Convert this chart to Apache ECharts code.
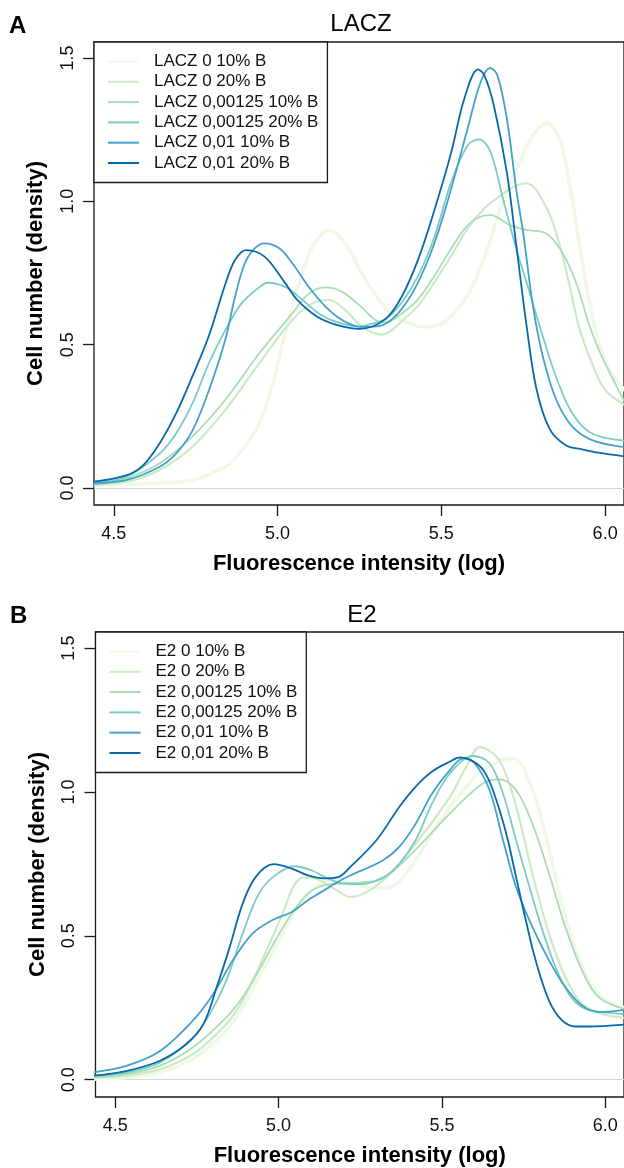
<!DOCTYPE html>
<html>
<head>
<meta charset="utf-8">
<script src="https://cdn.jsdelivr.net/npm/echarts@6/dist/echarts.min.js"></script>
<style>
  html, body { margin: 0; padding: 0; background: #fff; }
  #main { width: 624px; height: 1168px; }
</style>
</head>
<body>
<div id="main"></div>
<script>
// legend names
var laczNames = ['LACZ 0 10% B', 'LACZ 0 20% B', 'LACZ 0,00125 10% B', 'LACZ 0,00125 20% B', 'LACZ 0,01 10% B', 'LACZ 0,01 20% B'];
var e2Names = ['E2 0 10% B', 'E2 0 20% B', 'E2 0,00125 10% B', 'E2 0,00125 20% B', 'E2 0,01 10% B', 'E2 0,01 20% B'];

// tick values
var xTicks = [4.5, 5.0, 5.5, 6.0];
var yTicks = [0, 0.5, 1.0, 1.5];

// panel A (LACZ) density curves, [log intensity, density]
var lacz0_10 = [[4.44,0.008],[4.54,0.012],[4.64,0.018],[4.74,0.028],[4.84,0.074],[4.89,0.13],[4.944,0.226],[4.985,0.365],[5.025,0.55],[5.066,0.714],[5.106,0.84],[5.157,0.9],[5.207,0.853],[5.257,0.749],[5.33,0.626],[5.39,0.58],[5.45,0.562],[5.51,0.58],[5.58,0.672],[5.63,0.8],[5.68,0.974],[5.73,1.114],[5.78,1.23],[5.823,1.271],[5.86,1.22],[5.89,1.07],[5.92,0.86],[5.95,0.66],[5.98,0.51],[6.01,0.42],[6.06,0.34]];
var lacz0_20 = [[4.44,0.013],[4.54,0.022],[4.64,0.063],[4.74,0.144],[4.84,0.272],[4.944,0.435],[5.045,0.586],[5.106,0.644],[5.157,0.656],[5.207,0.62],[5.257,0.563],[5.318,0.535],[5.378,0.58],[5.43,0.637],[5.48,0.72],[5.53,0.81],[5.58,0.905],[5.63,0.974],[5.68,1.02],[5.73,1.056],[5.76,1.063],[5.82,0.98],[5.86,0.853],[5.89,0.714],[5.92,0.563],[5.96,0.435],[6.0,0.342],[6.06,0.29]];
var lacz125_10 = [[4.44,0.01],[4.54,0.034],[4.64,0.086],[4.74,0.18],[4.84,0.307],[4.944,0.47],[5.045,0.609],[5.096,0.679],[5.146,0.7],[5.196,0.685],[5.257,0.63],[5.3,0.585],[5.33,0.578],[5.378,0.608],[5.43,0.66],[5.48,0.742],[5.53,0.835],[5.58,0.916],[5.63,0.95],[5.65,0.952],[5.71,0.917],[5.76,0.9],[5.82,0.888],[5.87,0.82],[5.912,0.714],[5.95,0.574],[5.99,0.458],[6.06,0.3]];
var lacz125_20 = [[4.44,0.016],[4.54,0.04],[4.64,0.12],[4.69,0.19],[4.74,0.295],[4.79,0.435],[4.84,0.55],[4.89,0.644],[4.944,0.7],[4.97,0.716],[5.025,0.7],[5.076,0.656],[5.126,0.609],[5.177,0.58],[5.247,0.563],[5.28,0.57],[5.33,0.59],[5.38,0.649],[5.43,0.742],[5.48,0.88],[5.53,1.067],[5.58,1.195],[5.615,1.216],[5.65,1.172],[5.69,1.0],[5.73,0.83],[5.77,0.68],[5.81,0.528],[5.85,0.388],[5.9,0.26],[5.96,0.19],[6.06,0.165]];
var lacz01_10 = [[4.44,0.016],[4.54,0.028],[4.64,0.074],[4.69,0.12],[4.74,0.2],[4.79,0.34],[4.84,0.516],[4.87,0.667],[4.9,0.784],[4.93,0.836],[4.96,0.853],[5.005,0.836],[5.045,0.784],[5.096,0.7],[5.146,0.633],[5.197,0.586],[5.247,0.563],[5.278,0.562],[5.33,0.573],[5.38,0.626],[5.43,0.72],[5.48,0.858],[5.53,1.044],[5.58,1.253],[5.62,1.416],[5.649,1.465],[5.671,1.44],[5.7,1.288],[5.73,1.03],[5.75,0.888],[5.78,0.633],[5.81,0.458],[5.851,0.307],[5.9,0.214],[5.96,0.167],[6.06,0.142]];
var lacz01_20 = [[4.44,0.022],[4.54,0.045],[4.59,0.08],[4.64,0.156],[4.69,0.26],[4.74,0.39],[4.79,0.53],[4.84,0.71],[4.87,0.795],[4.904,0.83],[4.96,0.807],[5.02,0.72],[5.06,0.656],[5.12,0.598],[5.18,0.569],[5.25,0.555],[5.33,0.59],[5.38,0.67],[5.43,0.8],[5.48,0.974],[5.53,1.17],[5.57,1.358],[5.612,1.46],[5.631,1.44],[5.66,1.335],[5.7,1.1],[5.73,0.835],[5.76,0.567],[5.79,0.347],[5.83,0.207],[5.88,0.149],[5.93,0.135],[5.98,0.123],[6.06,0.11]];

// panel B (E2) density curves
var e2_0_10 = [[4.435,0.002],[4.536,0.008],[4.637,0.026],[4.738,0.072],[4.84,0.171],[4.89,0.252],[4.94,0.357],[4.99,0.461],[5.04,0.566],[5.09,0.647],[5.14,0.688],[5.18,0.7],[5.22,0.68],[5.28,0.668],[5.33,0.666],[5.37,0.69],[5.42,0.763],[5.47,0.856],[5.525,0.949],[5.575,1.019],[5.626,1.077],[5.717,1.117],[5.777,1.007],[5.828,0.8],[5.878,0.566],[5.929,0.391],[5.99,0.287],[6.06,0.25]];
var e2_0_20 = [[4.435,0.008],[4.536,0.014],[4.637,0.037],[4.738,0.089],[4.84,0.194],[4.89,0.275],[4.94,0.391],[4.99,0.519],[5.02,0.6],[5.045,0.67],[5.075,0.703],[5.11,0.7],[5.17,0.664],[5.22,0.635],[5.32,0.693],[5.42,0.821],[5.525,0.984],[5.575,1.088],[5.616,1.156],[5.676,1.11],[5.727,0.95],[5.777,0.717],[5.828,0.508],[5.878,0.357],[5.929,0.264],[5.99,0.229],[6.06,0.215]];
var e2_125_10 = [[4.435,0.008],[4.536,0.02],[4.637,0.049],[4.738,0.113],[4.84,0.217],[4.89,0.287],[4.94,0.38],[4.99,0.484],[5.04,0.577],[5.09,0.647],[5.14,0.676],[5.2,0.682],[5.253,0.686],[5.32,0.7],[5.42,0.8],[5.525,0.926],[5.626,1.03],[5.676,1.044],[5.727,1.007],[5.777,0.89],[5.828,0.717],[5.878,0.531],[5.929,0.38],[5.98,0.287],[6.06,0.245]];
var e2_125_20 = [[4.435,0.014],[4.536,0.026],[4.637,0.06],[4.738,0.147],[4.79,0.229],[4.84,0.345],[4.89,0.508],[4.94,0.647],[4.99,0.711],[5.05,0.742],[5.1,0.728],[5.15,0.7],[5.2,0.682],[5.253,0.68],[5.324,0.705],[5.37,0.751],[5.42,0.833],[5.47,0.96],[5.525,1.065],[5.595,1.125],[5.646,1.1],[5.687,0.995],[5.727,0.833],[5.768,0.67],[5.808,0.519],[5.848,0.391],[5.889,0.298],[5.929,0.252],[5.99,0.235],[6.06,0.228]];
var e2_01_10 = [[4.435,0.026],[4.536,0.049],[4.637,0.1],[4.738,0.206],[4.8,0.298],[4.86,0.415],[4.92,0.508],[4.98,0.554],[5.04,0.583],[5.09,0.624],[5.14,0.659],[5.19,0.693],[5.22,0.71],[5.32,0.763],[5.37,0.81],[5.42,0.89],[5.47,0.995],[5.525,1.077],[5.565,1.117],[5.6,1.1],[5.646,1.007],[5.687,0.833],[5.727,0.67],[5.777,0.531],[5.828,0.415],[5.878,0.322],[5.929,0.258],[5.98,0.235],[6.06,0.243]];
var e2_01_20 = [[4.435,0.014],[4.536,0.031],[4.637,0.066],[4.718,0.124],[4.77,0.194],[4.81,0.32],[4.85,0.46],[4.89,0.612],[4.93,0.705],[4.985,0.749],[5.04,0.734],[5.09,0.71],[5.14,0.7],[5.18,0.703],[5.22,0.74],[5.3,0.833],[5.37,0.949],[5.42,1.019],[5.47,1.071],[5.525,1.106],[5.555,1.12],[5.59,1.11],[5.626,1.077],[5.656,1.007],[5.697,0.856],[5.727,0.705],[5.757,0.554],[5.787,0.415],[5.828,0.275],[5.868,0.206],[5.909,0.185],[5.95,0.185],[6.06,0.192]];

var laczData = [lacz0_10, lacz0_20, lacz125_10, lacz125_20, lacz01_10, lacz01_20];
var e2Data = [e2_0_10, e2_0_20, e2_125_10, e2_125_20, e2_01_10, e2_01_20];

// RColorBrewer GnBu, 6 classes
var colors = ['#f0f9e8', '#ccebc5', '#a8ddb5', '#7bccc4', '#43a2ca', '#0868ac'];
var widths = [3.5, 2.2, 1.8, 1.8, 1.8, 1.8];

var FONT = '"Liberation Sans", Arial, Helvetica, sans-serif';
var INK = '#1a1a1a';

var myChart = echarts.init(document.getElementById('main'), null, { renderer: 'canvas' });

function makeXAxis(idx) {
  return {
    type: 'value',
    gridIndex: idx,
    min: 4.4394,
    max: 6.0576,
    splitLine: { show: false },
    axisLine: { show: false, onZero: false },
    axisTick: { show: true, length: 11, customValues: xTicks, lineStyle: { color: INK, width: 1.3 } },
    axisLabel: {
      customValues: xTicks, margin: 20, fontSize: 18, color: '#111', fontFamily: FONT,
      formatter: function (v) { return v.toFixed(1); }
    },
    name: 'Fluorescence intensity (log)',
    nameLocation: 'middle',
    nameGap: 48,
    nameTextStyle: { fontSize: 22, fontWeight: 'bold', color: '#000', fontFamily: FONT }
  };
}

function makeYAxis(idx, min, max) {
  return {
    type: 'value',
    gridIndex: idx,
    min: min,
    max: max,
    splitLine: { show: false },
    axisLine: { show: false, onZero: false },
    axisTick: { show: true, length: 11, customValues: yTicks, lineStyle: { color: INK, width: 1.3 } },
    axisLabel: {
      customValues: yTicks, rotate: 90, margin: 17, fontSize: 18, color: '#111', fontFamily: FONT,
      formatter: function (v) { return v.toFixed(1); }
    },
    name: 'Cell number (density)',
    nameLocation: 'middle',
    nameRotate: 90,
    nameGap: 47,
    nameTextStyle: { fontSize: 22, fontWeight: 'bold', color: '#000', fontFamily: FONT }
  };
}

function makeLegend(names, left, top) {
  return {
    data: names,
    orient: 'vertical',
    left: left,
    top: top,
    padding: [11, 9, 11, 14],
    icon: 'rect',
    itemWidth: 31,
    itemHeight: 2,
    itemGap: 3.3,
    borderColor: INK,
    borderWidth: 1.3,
    backgroundColor: '#fff',
    textStyle: { fontSize: 17, lineHeight: 17, color: '#111', fontFamily: FONT, padding: [0, 0, 0, 10] }
  };
}

var series = [];
function addSeries(names, data, idx) {
  for (var i = 0; i < names.length; ++i) {
    var s = {
      name: names[i],
      type: 'line',
      xAxisIndex: idx,
      yAxisIndex: idx,
      data: data[i],
      symbol: 'none',
      smooth: 0.35,
      lineStyle: { color: colors[i], width: widths[i] },
      itemStyle: { color: colors[i] },
      z: 3 + i
    };
    if (i === 0) {
      s.markLine = {
        silent: true,
        symbol: ['none', 'none'],
        label: { show: false },
        lineStyle: { color: '#d6d6d6', width: 1.2, type: 'solid' },
        data: [{ yAxis: 0 }],
        z: 1
      };
    }
    series.push(s);
  }
}
addSeries(laczNames, laczData, 0);
addSeries(e2Names, e2Data, 1);

var option = {
  animation: false,
  backgroundColor: '#fff',
  textStyle: { fontFamily: FONT },
  grid: [
    { left: 94, top: 42, width: 534, height: 463, show: true, borderColor: INK, borderWidth: 1.3, backgroundColor: 'transparent' },
    { left: 95.5, top: 632, width: 534, height: 465, show: true, borderColor: INK, borderWidth: 1.3, backgroundColor: 'transparent' }
  ],
  xAxis: [makeXAxis(0), makeXAxis(1)],
  yAxis: [makeYAxis(0, -0.0593, 1.5557), makeYAxis(1, -0.06, 1.556)],
  legend: [makeLegend(laczNames, 94, 42), makeLegend(e2Names, 95.5, 632)],
  graphic: [
    { type: 'text', left: 9, top: 14, style: { text: 'A', fontSize: 24, fontWeight: 'bold', fill: '#000', fontFamily: FONT } },
    { type: 'text', x: 361, y: 24, style: { text: 'LACZ', fontSize: 24, fill: '#000', fontFamily: FONT, textAlign: 'center', textVerticalAlign: 'middle' } },
    { type: 'text', left: 10, top: 604, style: { text: 'B', fontSize: 24, fontWeight: 'bold', fill: '#000', fontFamily: FONT } },
    { type: 'text', x: 362, y: 615, style: { text: 'E2', fontSize: 24, fill: '#000', fontFamily: FONT, textAlign: 'center', textVerticalAlign: 'middle' } }
  ],
  series: series
};

myChart.setOption(option);
</script>
</body>
</html>
